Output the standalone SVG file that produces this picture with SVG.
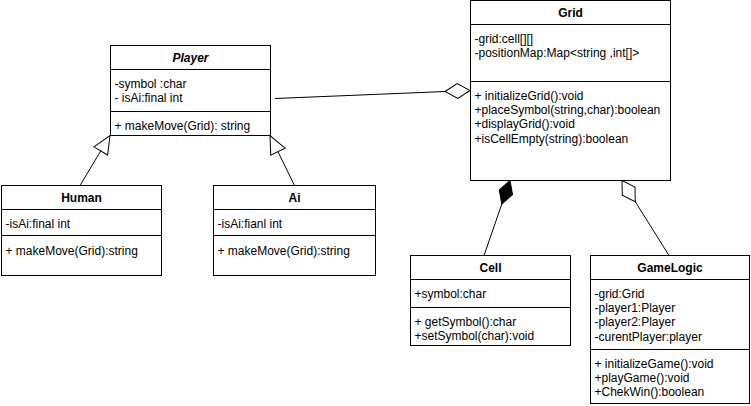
<svg xmlns="http://www.w3.org/2000/svg" width="751" height="406" viewBox="0 0 751 406">
<style>
.box{fill:#fff;stroke:#000;stroke-width:1}
.sep{stroke:#000;stroke-width:1}
text{font-family:"Liberation Sans",Arial,sans-serif;font-size:12px;fill:#000}
.t{text-anchor:middle;font-weight:bold}
.i{font-style:italic}
.c{fill:none;stroke:#000;stroke-width:1}
</style>
<defs>
<marker id="aggr" markerUnits="userSpaceOnUse" viewBox="-1 -1 27 17" markerWidth="27" markerHeight="17" refX="25" refY="7.5" orient="auto">
<path d="M0,7.5 L12.5,0 L25,7.5 L12.5,15 Z" fill="#fff" stroke="#000" stroke-width="1"/>
</marker>
<marker id="comp" markerUnits="userSpaceOnUse" viewBox="-1 -1 27 17" markerWidth="27" markerHeight="17" refX="25" refY="7.5" orient="auto">
<path d="M0,7.5 L12.5,0.5 L25,7.5 L12.5,14.5 Z" fill="#000" stroke="#000" stroke-width="1"/>
</marker>
<marker id="gen" markerUnits="userSpaceOnUse" viewBox="-1 -1 20 18" markerWidth="20" markerHeight="18" refX="18" refY="8" orient="auto">
<path d="M0,0 L18,8 L0,16 Z" fill="#fff" stroke="#000" stroke-width="1"/>
</marker>
</defs>

<g id="connectors">
<path class="c" d="M275,98.5 L470,90.5" marker-end="url(#aggr)"/>
<path class="c" d="M484,255.5 L510,180.5" marker-end="url(#comp)"/>
<path class="c" d="M669,255.5 L622,180.5" marker-end="url(#aggr)"/>
<path class="c" d="M80,185.5 L110,135.5" marker-end="url(#gen)"/>
<path class="c" d="M294.5,185.5 L270,135.5" marker-end="url(#gen)"/>
</g>

<g id="player">
<rect class="box" x="110.5" y="45.5" width="160" height="90"/>
<line class="sep" x1="110.5" y1="69.5" x2="270.5" y2="69.5"/>
<line class="sep" x1="110.5" y1="111.5" x2="270.5" y2="111.5"/>
<text class="t i" x="190.5" y="61.5">Player</text>
<text x="114.5" y="87.5">-symbol :char</text>
<text x="114.5" y="101.9">- isAi:final int</text>
<text x="114.5" y="129.5">+ makeMove(Grid): string</text>
</g>

<g id="grid">
<rect class="box" x="470.5" y="0.5" width="200" height="180"/>
<line class="sep" x1="470.5" y1="24.5" x2="670.5" y2="24.5"/>
<line class="sep" x1="470.5" y1="81.5" x2="670.5" y2="81.5"/>
<text class="t" x="570.5" y="16.5">Grid</text>
<text x="474.5" y="42.5">-grid:cell[][]</text>
<text x="474.5" y="56.9">-positionMap:Map&lt;string ,int[]&gt;</text>
<text x="474.5" y="99.5">+ initializeGrid():void</text>
<text x="474.5" y="113.9">+placeSymbol(string,char):boolean</text>
<text x="474.5" y="128.3">+displayGrid():void</text>
<text x="474.5" y="142.7">+isCellEmpty(string):boolean</text>
</g>

<g id="human">
<rect class="box" x="1.5" y="185.5" width="160" height="90"/>
<line class="sep" x1="1.5" y1="209.5" x2="161.5" y2="209.5"/>
<line class="sep" x1="1.5" y1="235.5" x2="161.5" y2="235.5"/>
<text class="t" x="81.5" y="201.5">Human</text>
<text x="5.5" y="227.5">-isAi:final int</text>
<text x="5.5" y="254.5">+ makeMove(Grid):string</text>
</g>

<g id="ai">
<rect class="box" x="213.5" y="185.5" width="162" height="90"/>
<line class="sep" x1="213.5" y1="209.5" x2="375.5" y2="209.5"/>
<line class="sep" x1="213.5" y1="235.5" x2="375.5" y2="235.5"/>
<text class="t" x="294.5" y="201.5">Ai</text>
<text x="217.5" y="227.5">-isAi:fianl int</text>
<text x="217.5" y="254.5">+ makeMove(Grid):string</text>
</g>

<g id="cell">
<rect class="box" x="410.5" y="255.5" width="160" height="90"/>
<line class="sep" x1="410.5" y1="279.5" x2="570.5" y2="279.5"/>
<line class="sep" x1="410.5" y1="307.5" x2="570.5" y2="307.5"/>
<text class="t" x="490.5" y="271.5">Cell</text>
<text x="414.5" y="297.5">+symbol:char</text>
<text x="414.5" y="325.5">+ getSymbol():char</text>
<text x="414.5" y="339.9">+setSymbol(char):void</text>
</g>

<g id="gamelogic">
<rect class="box" x="590.5" y="255.5" width="159" height="148"/>
<line class="sep" x1="590.5" y1="279.5" x2="749.5" y2="279.5"/>
<line class="sep" x1="590.5" y1="349.5" x2="749.5" y2="349.5"/>
<text class="t" x="670" y="271.5">GameLogic</text>
<text x="594.5" y="297.5">-grid:Grid</text>
<text x="594.5" y="311.9">-player1:Player</text>
<text x="594.5" y="326.3">-player2:Player</text>
<text x="594.5" y="340.7">-curentPlayer:player</text>
<text x="594.5" y="367.5">+ initializeGame():void</text>
<text x="594.5" y="381.9">+playGame():void</text>
<text x="594.5" y="396.3">+ChekWin():boolean</text>
</g>
</svg>
